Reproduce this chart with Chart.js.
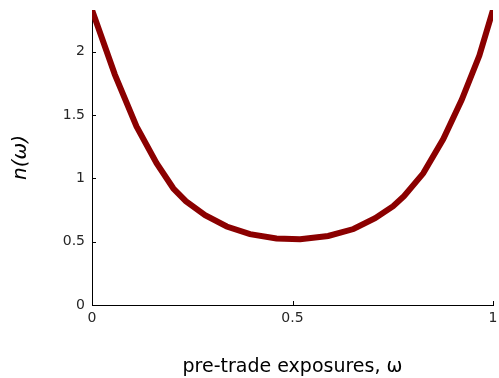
<!DOCTYPE html>
<html lang="en">
<head>
  <meta charset="UTF-8" />
  <title>n(ω) vs pre-trade exposures</title>
  <script src="https://cdn.jsdelivr.net/npm/chart.js"></script>
  <style>
    html, body { margin: 0; padding: 0; background: #fff; }
    #wrap { width: 499px; height: 378px; position: relative; }
  </style>
</head>
<body>
  <div id="wrap"><canvas id="chart"></canvas></div>
  <script>
    // Data
    const omega  = [0, 0.057, 0.111, 0.161, 0.203, 0.234, 0.282, 0.336, 0.394, 0.46, 0.519, 0.589, 0.652, 0.706, 0.751, 0.778, 0.826, 0.876, 0.922, 0.966, 1];
    const nOmega = [2.33, 1.82, 1.41, 1.12, 0.92, 0.82, 0.71, 0.62, 0.56, 0.525, 0.52, 0.545, 0.60, 0.685, 0.78, 0.86, 1.04, 1.31, 1.62, 1.97, 2.33];
    const xTicks = [0, 0.5, 1];
    const yTicks = [0, 0.5, 1, 1.5, 2];

    const points = omega.map((x, i) => ({ x, y: nOmega[i] }));

    // inward tick marks, drawn at the scales' own pixel positions
    const inwardTicks = {
      id: 'inwardTicks',
      afterDatasetsDraw(chart) {
        const { ctx, chartArea: a, scales: { x, y } } = chart;
        ctx.save();
        ctx.strokeStyle = '#000'; ctx.lineWidth = 1;
        ctx.beginPath();
        xTicks.forEach(v => { const px = Math.round(x.getPixelForValue(v)) + 0.5; ctx.moveTo(px, a.bottom); ctx.lineTo(px, a.bottom - 4); });
        yTicks.forEach(v => { const py = Math.round(y.getPixelForValue(v)) + 0.5; ctx.moveTo(a.left, py); ctx.lineTo(a.left + 4, py); });
        ctx.stroke();
        ctx.restore();
      }
    };

    // keep the plot box where the layout padding puts it
    const noLabelPadding = s => { s.paddingTop = 0; s.paddingBottom = 0; s.paddingLeft = 0; s.paddingRight = 0; };

    Chart.defaults.font.family = '"DejaVu Sans", sans-serif';
    Chart.defaults.color = '#262626';

    new Chart(document.getElementById('chart'), {
      type: 'scatter',
      data: {
        datasets: [{
          data: points,
          showLine: true,
          borderColor: '#8b0000',
          borderWidth: 6,
          pointRadius: 0,
          tension: 0,
          clip: 0
        }]
      },
      options: {
        responsive: true,
        maintainAspectRatio: false,
        animation: false,
        layout: { padding: { left: 0, right: 6, top: 10, bottom: 0 } },
        plugins: { legend: { display: false }, tooltip: { enabled: false } },
        scales: {
          x: {
            type: 'linear', min: 0, max: 1,
            afterFit: s => { s.height = 73; noLabelPadding(s); },
            afterBuildTicks: s => { s.ticks = xTicks.map(v => ({ value: v })); },
            ticks: { font: { size: 14 }, padding: 5, maxRotation: 0,
              callback: v => String(v) },
            grid: { display: false, drawTicks: false },
            border: { display: true, color: '#000', width: 1 },
            title: { display: true, text: 'pre-trade exposures, ω', font: { size: 19 }, color: '#000', padding: { top: 0, bottom: 0 } }
          },
          y: {
            type: 'linear', min: 0, max: 2.33,
            afterFit: s => { s.width = 92; noLabelPadding(s); },
            afterBuildTicks: s => { s.ticks = yTicks.map(v => ({ value: v })); },
            ticks: { font: { size: 14 }, padding: 7, callback: v => String(v) },
            grid: { display: false, drawTicks: false },
            border: { display: true, color: '#000', width: 1 },
            title: { display: true, text: 'n(ω)', font: { size: 20, style: 'italic' }, color: '#000', padding: { top: 9, bottom: 0 } }
          }
        }
      },
      plugins: [inwardTicks]
    });
  </script>
</body>
</html>
